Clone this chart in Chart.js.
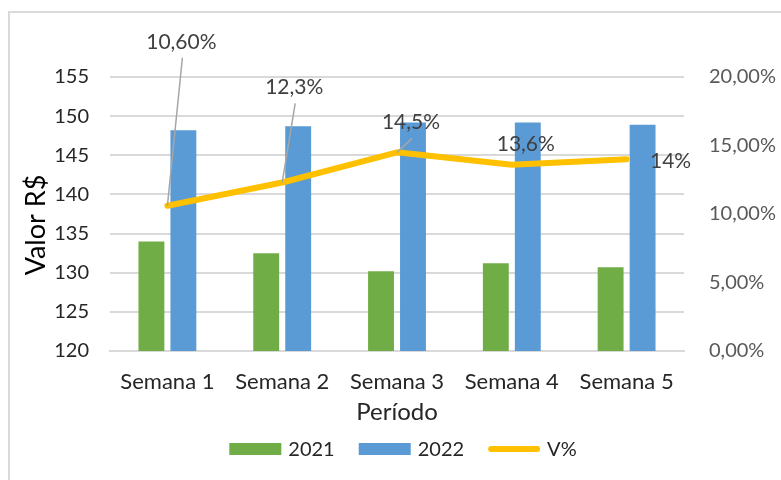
<!DOCTYPE html>
<html>
<head>
<meta charset="utf-8">
<script src="https://cdn.jsdelivr.net/npm/chart.js@4/dist/chart.umd.min.js"></script>
<style>
html,body{margin:0;padding:0;background:#fff;}
#wrap{position:relative;width:781px;height:480px;}
</style>
</head>
<body>
<div id="wrap"><canvas id="c" width="781" height="480"></canvas></div>
<script>
const categories = ['Semana 1', 'Semana 2', 'Semana 3', 'Semana 4', 'Semana 5'];
const values2021 = [134.0, 132.5, 130.2, 131.2, 130.7];
const values2022 = [148.2, 148.7, 149.2, 149.2, 148.9];
const variacao = [10.6, 12.3, 14.5, 13.6, 14.0];
const variacaoLabels = ['10,60%', '12,3%', '14,5%', '13,6%', '14%'];
const leftTicks = [120, 125, 130, 135, 140, 145, 150, 155];
const rightTicks = [0, 5, 10, 15, 20];
const yTitle = 'Valor R$';
const xTitle = 'Período';

const FONT = 'Lato';

// label placement relative to the line point (dx, dy) and whether a leader line is drawn
const labelPlacement = [
  {dx: 14, dy: -164, leader: true},
  {dx: 12, dy: -95, leader: true},
  {dx: 14, dy: -30, leader: true},
  {dx: 14, dy: -20, leader: false},
  {dx: 44, dy: 2, leader: false}
];

const framePlugin = {
  id: 'frame',
  beforeDraw(chart) {
    const ctx = chart.ctx;
    ctx.save();
    ctx.strokeStyle = '#d9d9d9';
    ctx.lineWidth = 2;
    ctx.beginPath();
    ctx.moveTo(9, 480);
    ctx.lineTo(9, 12);
    ctx.lineTo(781, 12);
    ctx.stroke();
    ctx.restore();
  },
  afterDraw(chart) {
    const ctx = chart.ctx;
    ctx.save();
    ctx.translate(36, 225);
    ctx.rotate(-Math.PI / 2);
    ctx.font = '27px ' + FONT;
    ctx.fillStyle = '#000';
    ctx.textAlign = 'center';
    ctx.textBaseline = 'middle';
    ctx.fillText(yTitle, 0, 0);
    ctx.restore();
  }
};

const labelsPlugin = {
  id: 'vlabels',
  afterDatasetsDraw(chart) {
    const meta = chart.getDatasetMeta(2);
    const ctx = chart.ctx;
    ctx.save();
    ctx.font = '21px ' + FONT;
    ctx.textAlign = 'center';
    ctx.textBaseline = 'middle';
    meta.data.forEach((pt, i) => {
      const p = labelPlacement[i];
      const tx = pt.x + p.dx, ty = pt.y + p.dy;
      if (p.leader) {
        ctx.strokeStyle = '#a6a6a6';
        ctx.lineWidth = 1.5;
        ctx.beginPath();
        ctx.moveTo(tx + 1, ty + 16);
        ctx.lineTo(pt.x, pt.y);
        ctx.stroke();
      }
      ctx.fillStyle = '#404040';
      ctx.fillText(variacaoLabels[i], tx, ty);
    });
    ctx.restore();
  }
};

const legendPlugin = {
  id: 'customLegend',
  afterDraw(chart) {
    const ctx = chart.ctx;
    ctx.save();
    ctx.font = '20px ' + FONT;
    ctx.textBaseline = 'middle';
    const y = 449;
    const boxW = 52, boxH = 12, gap = 7, spacing = 24;
    const items = chart.data.datasets.map(ds => ({
      text: ds.label, color: ds.type === 'line' ? ds.borderColor : ds.backgroundColor, line: ds.type === 'line'
    }));
    let total = 0;
    items.forEach((it, i) => { it.w = ctx.measureText(it.text).width; total += boxW + gap + it.w + (i < items.length - 1 ? spacing : 0); });
    let x = 403 - total / 2;
    items.forEach(it => {
      if (it.line) {
        ctx.strokeStyle = it.color;
        ctx.lineWidth = 6;
        ctx.lineCap = 'round';
        ctx.beginPath();
        ctx.moveTo(x + 3, y);
        ctx.lineTo(x + boxW - 3, y);
        ctx.stroke();
      } else {
        ctx.fillStyle = it.color;
        ctx.fillRect(x, y - boxH / 2, boxW, boxH);
      }
      ctx.fillStyle = '#262626';
      ctx.textAlign = 'left';
      ctx.fillText(it.text, x + boxW + gap, y + 1);
      x += boxW + gap + it.w + spacing;
    });
    ctx.restore();
  }
};

new Chart(document.getElementById('c'), {
  data: {
    labels: categories,
    datasets: [
      {type: 'bar', label: '2021', data: values2021, backgroundColor: '#70AD47', yAxisID: 'y', order: 2,
       categoryPercentage: 0.557, barPercentage: 0.81},
      {type: 'bar', label: '2022', data: values2022, backgroundColor: '#5B9BD5', yAxisID: 'y', order: 2,
       categoryPercentage: 0.557, barPercentage: 0.81},
      {type: 'line', label: 'V%', data: variacao, borderColor: '#FFC000', backgroundColor: '#FFC000',
       borderWidth: 6, pointRadius: 0, tension: 0, borderCapStyle: 'round', borderJoinStyle: 'round', yAxisID: 'y1', order: 1}
    ]
  },
  options: {
    responsive: false,
    animation: false,
    layout: {padding: {top: 77, bottom: 0, left: 0, right: 0}},
    plugins: {legend: {display: false}, tooltip: {enabled: false}},
    scales: {
      x: {
        offset: true,
        grid: {display: false, drawTicks: false},
        border: {display: true, color: '#d9d9d9', width: 2},
        ticks: {color: '#262626', font: {family: FONT, size: 22}, padding: 18, maxRotation: 0},
        title: {display: true, text: xTitle, color: '#262626', font: {family: FONT, size: 24}, padding: {top: 0, bottom: 53}},
        afterFit(s) { s.height = 129; }
      },
      y: {
        position: 'left',
        min: 120, max: 155,
        afterBuildTicks(s) { s.ticks = leftTicks.map(v => ({value: v})); },
        grid: {color: '#d9d9d9', lineWidth: 2, drawTicks: false},
        border: {display: false},
        ticks: {color: '#262626', font: {family: FONT, size: 20}, padding: 21},
        afterFit(s) { s.width = 110; }
      },
      y1: {
        position: 'right',
        min: 0, max: 20,
        afterBuildTicks(s) { s.ticks = rightTicks.map(v => ({value: v})); },
        grid: {display: false, drawTicks: false},
        border: {display: false},
        ticks: {color: '#595959', font: {family: FONT, size: 20}, padding: 25,
          callback: v => v.toFixed(2).replace('.', ',') + '%'},
        afterFit(s) { s.width = 97; }
      }
    }
  },
  plugins: [framePlugin, labelsPlugin, legendPlugin]
});
</script>
</body>
</html>
